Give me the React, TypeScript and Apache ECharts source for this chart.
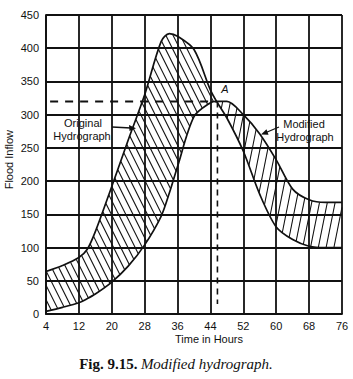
import React, { useEffect, useRef } from 'react';
import * as echarts from 'echarts';

const hours = [4, 8, 12, 14, 16, 20, 24, 28, 32, 34, 36, 40, 44, 45.5, 48, 52, 56, 60, 64, 68, 72, 76];
const original = [64, 73, 85, 97, 124, 192, 262, 330, 410, 422, 418, 398, 337, 320, 295, 245, 180, 131, 112, 102, 100, 100];
const modified = [4, 10, 17, 23, 30, 48, 72, 104, 147, 182, 222, 297, 318, 320, 320, 300, 271, 232, 188, 172, 168, 168];
const pointA = { hour: 45.5, flow: 320 };
const dashStartHour = 5;
const dashBottomFlow = 15;

const SMOOTH = 0.3;
const FONT = '"Liberation Sans", Arial, sans-serif';

type Pt = number[];

// same smoothing scheme as the ECharts line series, sampled densely in pixel space
function smoothCurve(pts: Pt[], smooth: number): Pt[] {
  const out: Pt[] = [pts[0]];
  const n = pts.length;
  let cpx0 = pts[0][0];
  let cpy0 = pts[0][1];
  for (let k = 1; k < n; k++) {
    const [prevX, prevY] = pts[k - 1];
    const [x, y] = pts[k];
    let cpx1: number, cpy1: number, nextCpx0 = x, nextCpy0 = y;
    if (k + 1 >= n) {
      cpx1 = x; cpy1 = y;
    } else {
      const [nextX, nextY] = pts[k + 1];
      let vx = nextX - prevX;
      let vy = nextY - prevY;
      const dx0 = x - prevX, dx1 = nextX - x, dy0 = y - prevY, dy1 = nextY - y;
      const lenPrev = Math.sqrt(dx0 * dx0 + dy0 * dy0);
      const lenNext = Math.sqrt(dx1 * dx1 + dy1 * dy1);
      const ratio = lenNext / (lenNext + lenPrev);
      nextCpx0 = x + vx * smooth * ratio;
      nextCpy0 = y + vy * smooth * ratio;
      nextCpx0 = Math.min(nextCpx0, Math.max(nextX, x));
      nextCpy0 = Math.min(nextCpy0, Math.max(nextY, y));
      nextCpx0 = Math.max(nextCpx0, Math.min(nextX, x));
      nextCpy0 = Math.max(nextCpy0, Math.min(nextY, y));
      vx = nextCpx0 - x; vy = nextCpy0 - y;
      cpx1 = x - vx * lenPrev / lenNext;
      cpy1 = y - vy * lenPrev / lenNext;
      cpx1 = Math.min(cpx1, Math.max(prevX, x));
      cpy1 = Math.min(cpy1, Math.max(prevY, y));
      cpx1 = Math.max(cpx1, Math.min(prevX, x));
      cpy1 = Math.max(cpy1, Math.min(prevY, y));
      vx = x - cpx1; vy = y - cpy1;
      nextCpx0 = x + vx * lenNext / lenPrev;
      nextCpy0 = y + vy * lenNext / lenPrev;
    }
    const steps = 24;
    for (let s = 1; s <= steps; s++) {
      const t = s / steps, u = 1 - t;
      out.push([
        u * u * u * prevX + 3 * u * u * t * cpx0 + 3 * u * t * t * cpx1 + t * t * t * x,
        u * u * u * prevY + 3 * u * u * t * cpy0 + 3 * u * t * t * cpy1 + t * t * t * y,
      ]);
    }
    cpx0 = nextCpx0; cpy0 = nextCpy0;
  }
  return out;
}

function yAt(curve: Pt[], x: number): number {
  for (let i = 1; i < curve.length; i++) {
    const a = curve[i - 1], b = curve[i];
    if ((x >= a[0] && x <= b[0]) || (x <= a[0] && x >= b[0])) {
      const d = b[0] - a[0];
      return d === 0 ? a[1] : a[1] + (b[1] - a[1]) * (x - a[0]) / d;
    }
  }
  return NaN;
}

function hatch(c1: Pt[], c2: Pt[], xMin: number, xMax: number, yTop: number, yBot: number,
  slope: number, spacing: number): number[][] {
  // lines x = c + (y - yTop) * slope
  const segs: number[][] = [];
  const span = Math.abs(slope) * (yBot - yTop);
  const cStart = xMin - (slope > 0 ? span : 0) - spacing;
  const cEnd = xMax + (slope < 0 ? span : 0) + spacing;
  for (let c = cStart; c <= cEnd; c += spacing) {
    let start: number[] | null = null;
    let last: number[] | null = null;
    for (let y = yTop; y <= yBot; y += 0.5) {
      const x = c + (y - yTop) * slope;
      let inside = false;
      if (x >= xMin && x <= xMax) {
        const a = yAt(c1, x), b = yAt(c2, x);
        if (!isNaN(a) && !isNaN(b)) {
          inside = y >= Math.min(a, b) && y <= Math.max(a, b);
        }
      }
      if (inside) {
        if (!start) start = [x, y];
        last = [x, y];
      } else if (start && last) {
        segs.push([start[0], start[1], last[0], last[1]]);
        start = null; last = null;
      }
    }
    if (start && last) segs.push([start[0], start[1], last[0], last[1]]);
  }
  return segs;
}

export default function App() {
  const ref = useRef<HTMLDivElement>(null);
  useEffect(() => {
    if (!ref.current) return;
    const chart = echarts.init(ref.current, undefined, { renderer: 'svg' });

    const renderHatch = (params: any, api: any) => {
      const p1 = hours.map((h, i) => api.coord([h, original[i]]));
      const p2 = hours.map((h, i) => api.coord([h, modified[i]]));
      const c1 = smoothCurve(p1, SMOOTH);
      const c2 = smoothCurve(p2, SMOOTH);
      const xA = api.coord([pointA.hour, pointA.flow])[0];
      const x0 = p1[0][0], x1 = p1[p1.length - 1][0];
      const yTop = api.coord([4, 450])[1];
      const yBot = api.coord([4, 0])[1];
      const left = hatch(c1, c2, x0, xA, yTop, yBot, 0.5, 7.2);
      const right = hatch(c1, c2, xA, x1, yTop, yBot, -0.2, 7.8);
      const children = left.concat(right)
        .filter((s) => Math.hypot(s[2] - s[0], s[3] - s[1]) > 1.5)
        .map((s) => ({
          type: 'line',
          shape: { x1: s[0], y1: s[1], x2: s[2], y2: s[3] },
          style: { stroke: '#111', lineWidth: 1.1 },
        }));
      return { type: 'group', children };
    };

    chart.setOption({
      animation: false,
      backgroundColor: '#fff',
      grid: { left: 46, right: 11, top: 15, bottom: 65, containLabel: false },
      xAxis: {
        type: 'value', min: 4, max: 76, interval: 8,
        axisLine: { show: true, lineStyle: { color: '#111', width: 1.8 } },
        axisTick: { show: false },
        axisLabel: { color: '#111', fontFamily: FONT, fontSize: 11, margin: 6 },
        splitLine: { show: true, lineStyle: { color: '#111', width: 1.8 } },
      },
      yAxis: {
        type: 'value', min: 0, max: 450, interval: 50,
        axisLine: { show: true, lineStyle: { color: '#111', width: 1.8 } },
        axisTick: { show: false },
        axisLabel: { color: '#111', fontFamily: FONT, fontSize: 11, margin: 7 },
        splitLine: { show: true, lineStyle: { color: '#111', width: 1.8 } },
      },
      series: [
        {
          name: 'hatch', type: 'custom', coordinateSystem: 'cartesian2d',
          data: [[hours[0], 0]], renderItem: renderHatch, silent: true, z: 3,
        },
        {
          name: 'Original Hydrograph', type: 'line', smooth: SMOOTH, symbol: 'none', z: 5,
          data: hours.map((h, i) => [h, original[i]]),
          lineStyle: { color: '#111', width: 1.7 },
        },
        {
          name: 'Modified Hydrograph', type: 'line', smooth: SMOOTH, symbol: 'none', z: 5,
          data: hours.map((h, i) => [h, modified[i]]),
          lineStyle: { color: '#111', width: 1.7 },
        },
        {
          name: 'dashH', type: 'line', symbol: 'none', z: 6,
          data: [[dashStartHour, pointA.flow], [pointA.hour, pointA.flow]],
          lineStyle: { color: '#111', width: 2, type: [8, 7] },
        },
        {
          name: 'dashV', type: 'line', symbol: 'none', z: 6,
          data: [[pointA.hour + 0.2, pointA.flow], [pointA.hour + 0.2, dashBottomFlow]],
          lineStyle: { color: '#111', width: 1.6, type: [6, 5] },
        },
      ],
      graphic: [
        { type: 'text', left: 3, top: 130, rotation: Math.PI / 2, style: { text: 'Flood Inflow', font: `11px ${FONT}`, fill: '#111' } },
        { type: 'text', x: 209, y: 339, style: { text: 'Time in Hours', font: `11px ${FONT}`, fill: '#111', align: 'center', verticalAlign: 'middle' } },
        { type: 'text', x: 83, y: 123, style: { text: 'Original', font: `11px ${FONT}`, fill: '#111', align: 'center', verticalAlign: 'middle' } },
        { type: 'text', x: 82, y: 136, style: { text: 'Hydrograph', font: `11px ${FONT}`, fill: '#111', align: 'center', verticalAlign: 'middle' } },
        { type: 'text', x: 304, y: 124, style: { text: 'Modified', font: `11px ${FONT}`, fill: '#111', align: 'center', verticalAlign: 'middle' } },
        { type: 'text', x: 305, y: 137, style: { text: 'Hydrograph', font: `11px ${FONT}`, fill: '#111', align: 'center', verticalAlign: 'middle' } },
        { type: 'text', x: 225, y: 89, style: { text: 'A', font: `italic 11px ${FONT}`, fill: '#111', align: 'center', verticalAlign: 'middle' } },
        { type: 'line', shape: { x1: 112, y1: 127, x2: 131, y2: 128 }, style: { stroke: '#111', lineWidth: 1.3 } },
        { type: 'polygon', shape: { points: [[136, 128.3], [129, 125], [129.5, 131]] }, style: { fill: '#111' } },
        { type: 'line', shape: { x1: 279, y1: 127, x2: 266, y2: 132.5 }, style: { stroke: '#111', lineWidth: 1.3 } },
        { type: 'polygon', shape: { points: [[261, 134.5], [266.5, 129.3], [268.5, 134.8]] }, style: { fill: '#111' } },
        {
          type: 'text', x: 176, y: 364,
          style: {
            text: '{b|Fig. 9.15.} {i|Modified hydrograph.}',
            align: 'center', verticalAlign: 'middle', fill: '#111',
            rich: {
              b: { font: `bold 15px "Liberation Serif", "DejaVu Serif", serif`, fill: '#111' },
              i: { font: `italic 15px "Liberation Serif", "DejaVu Serif", serif`, fill: '#111' },
            },
          },
        },
      ],
    });
    return () => chart.dispose();
  }, []);
  return <div ref={ref} style={{ width: 353, height: 379, position: 'absolute', left: 0, top: 0 }} />;
}
